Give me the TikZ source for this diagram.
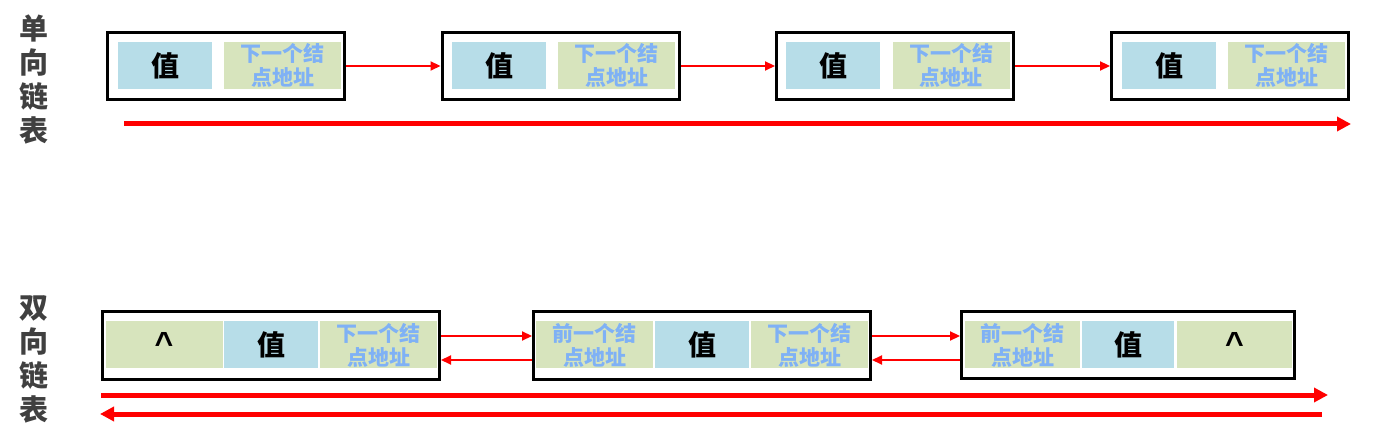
\documentclass[tikz,border=0pt]{standalone}
\usepackage{fontspec}
\newfontfamily\cjk{Noto Sans CJK SC}
\newfontfamily\lsans{Liberation Sans}
\usetikzlibrary{arrows.meta}
\definecolor{valbg}{HTML}{B7DDE8}
\definecolor{ptrbg}{HTML}{D7E4BD}
\definecolor{ptrtxt}{HTML}{7FB1F5}
\definecolor{lbl}{HTML}{404040}
\definecolor{arr}{HTML}{FF0000}
\tikzset{
  outerbox/.style={draw=black, line width=3pt, fill=white, inner sep=0pt, minimum height=67pt},
  valcell/.style={fill=valbg, inner sep=0pt, minimum width=94pt, minimum height=47pt,
    font=\cjk\bfseries\fontsize{28}{30}\selectfont, text=black},
  ptrcell/.style={fill=ptrbg, inner sep=0pt, minimum width=117pt, minimum height=47pt,
    align=center, font=\cjk\bfseries\fontsize{21}{24}\selectfont, text=ptrtxt},
  nilcell/.style={fill=ptrbg, inner sep=0pt, minimum width=117pt, minimum height=47pt,
    font=\lsans\bfseries\fontsize{32}{32}\selectfont, text=black},
  sidelbl/.style={align=center, text=lbl, font=\cjk\bfseries\fontsize{29}{34}\selectfont, inner sep=0pt},
  link/.style={draw=arr, line width=2.2pt, -{Triangle[length=10pt,width=9pt]}},
  biglink/.style={draw=arr, line width=5pt, -{Triangle[length=14pt,width=14pt]}},
}
\begin{document}
\begin{tikzpicture}[x=1pt,y=-1pt]
\useasboundingbox (0,0) rectangle (1390,446);
% side labels
\node[sidelbl] (lblA) at (34,80) {单\\向\\链\\表};
\node[sidelbl] (lblB) at (34,359) {双\\向\\链\\表};
% singly linked list
\foreach \i/\cx/\vx/\px in {1/226/165/282.5, 2/560.5/499/616.5, 3/895/833/951, 4/1230/1169/1286.5}{
  \node[outerbox, minimum width=237pt] (s\i) at (\cx,66) {};
  \node[valcell] (sv\i) at (\vx,65.5) {值};
  \node[ptrcell] (sp\i) at (\px,65.5) {下一个结\\点地址};
}
\draw[link] (s1.east) -- (s2.west);
\draw[link] (s2.east) -- (s3.west);
\draw[link] (s3.east) -- (s4.west);
\coordinate (sa) at (124,124);
\coordinate (sb) at (1351,124);
\draw[biglink] (sa) -- (sb);
% doubly linked list
\node[outerbox, minimum width=337pt, minimum height=68pt] (d1) at (271,345.5) {};
\node[nilcell] (d1n) at (164,345) {\raisebox{4pt}{\textasciicircum}};
\node[valcell] (d1v) at (271,345) {值};
\node[ptrcell] (d1p) at (378.5,345) {下一个结\\点地址};

\node[outerbox, minimum width=337pt, minimum height=68pt] (d2) at (702,345.5) {};
\node[ptrcell] (d2q) at (594.5,345) {前一个结\\点地址};
\node[valcell] (d2v) at (702,345) {值};
\node[ptrcell] (d2p) at (809.5,345) {下一个结\\点地址};

\node[outerbox, minimum width=333pt, minimum height=67pt] (d3) at (1128,345) {};
\node[ptrcell, minimum width=115pt] (d3q) at (1022.5,345) {前一个结\\点地址};
\node[valcell, minimum width=92pt] (d3v) at (1128,345) {值};
\node[nilcell, minimum width=115pt] (d3n) at (1234.5,345) {\raisebox{4pt}{\textasciicircum}};

\draw[link] ([yshift=9.5pt]d1.east) -- ([yshift=9.5pt]d2.west);
\draw[link] ([yshift=-14.5pt]d2.west) -- ([yshift=-14.5pt]d1.east);
\draw[link] ([yshift=9.5pt]d2.east) -- ([yshift=9pt]d3.west);
\draw[link] ([yshift=-15pt]d3.west) -- ([yshift=-14.5pt]d2.east);
\coordinate (fa) at (101,395);
\coordinate (fb) at (1328,395);
\draw[biglink] (fa) -- (fb);
\coordinate (ga) at (1322,414);
\coordinate (gb) at (100,414);
\draw[biglink] (ga) -- (gb);
\end{tikzpicture}
\end{document}
